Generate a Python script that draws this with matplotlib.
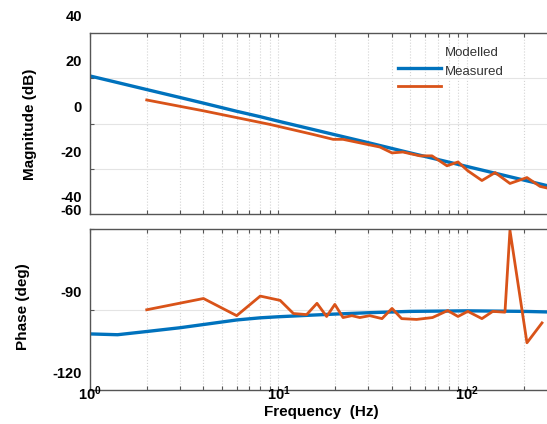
import matplotlib
matplotlib.use('Agg')
import matplotlib.pyplot as plt
from matplotlib.lines import Line2D
from matplotlib.ticker import LogLocator, NullFormatter, FixedLocator

plt.rcParams['font.family'] = 'Liberation Sans'
plt.rcParams['mathtext.fontset'] = 'custom'
plt.rcParams['mathtext.rm'] = 'Liberation Sans:bold'
plt.rcParams['mathtext.it'] = 'Liberation Sans:bold'
plt.rcParams['mathtext.bf'] = 'Liberation Sans:bold'

# modelled response
model_freq = [1, 1.4, 2, 3, 4, 6, 8, 10, 15, 20, 30, 50, 100, 200, 300, 1000]
model_mag = [21, 18.1, 15, 11.5, 9, 5.4, 3, 1, -2.5, -5, -8.5, -13, -19, -25, -28.5, -39]
model_phase = [-99.1, -99.4, -98.2, -96.8, -95.6, -93.9, -93.1, -92.7, -92.1, -91.7,
               -91.2, -90.7, -90.5, -90.7, -91.0, -91.5]

# measured response
meas_mag_freq = [2, 4, 6, 9, 15.2, 19.5, 22, 34.5, 40, 45.7, 56.3, 65.2, 78.3, 89.6,
                 101, 120, 141, 169, 208, 244, 300]
meas_mag = [10.4, 5.6, 2.6, -0.4, -4.8, -7, -7, -10.4, -13, -12.6, -14.3, -14.3, -18.7,
            -17, -20.9, -25.2, -21.7, -26.5, -23.9, -27.8, -29.5]
meas_ph_freq = [2, 4, 6, 8, 10.2, 12, 14.1, 16, 18, 19.9, 22, 24.5, 27, 30.5, 35.4, 40,
                45, 54, 65.6, 79, 89.6, 101, 120, 137, 159, 169, 208, 250]
meas_phase = [-90.1, -85.9, -92.3, -85, -86.6, -91.5, -91.9, -87.7, -92.6, -88.1, -93,
              -92.3, -93, -92.3, -93.4, -89.6, -93.4, -93.7, -93, -90.4, -92.6, -90.7,
              -93.4, -90.7, -91, -60.5, -102.4, -95]

mag_ticks = [-20, 0, 20]
mag_labels = ['40', '20', '0', '-20', '-40', '-60']
mag_label_pos = [47, 27, 7, -13, -33, -38.8]
ph_ticks = [-120, -90, -60]
ph_labels = ['-90', '-120']
ph_label_pos = [-84, -114]
x_ticks = [1, 10, 100]
x_labels = ['$10^{0}$', '$10^{1}$', '$10^{2}$']

blue = '#0072BD'
orange = '#D95319'
W, H = 547, 424
dec = 188.5

fig = plt.figure(figsize=(W / 100, H / 100), dpi=100)
ax1 = fig.add_axes([90 / W, 1 - 214 / H, 3 * dec / W, 181 / H])
ax2 = fig.add_axes([90 / W, 1 - 390 / H, 3 * dec / W, 161 / H])


def style(ax):
    ax.set_xscale('log')
    ax.set_xlim(1, 1000)
    ax.xaxis.set_minor_locator(LogLocator(subs=range(2, 10)))
    ax.xaxis.set_minor_formatter(NullFormatter())
    ax.tick_params(which='both', direction='in', top=True, right=False,
                   color='#555555', length=3, width=0.8)
    ax.tick_params(axis='y', labelleft=False)
    ax.tick_params(axis='x', labelbottom=False)
    for s in ax.spines.values():
        s.set_color('#555555')
        s.set_linewidth(1.0)
    ax.grid(True, axis='x', which='both', color='#d4d4d4', linestyle=':', linewidth=0.8)
    ax.grid(True, axis='y', which='major', color='#e4e4e4', linestyle='-', linewidth=0.8)
    ax.set_axisbelow(True)


style(ax1)
style(ax2)

# magnitude
ax1.plot(model_freq, model_mag, color=blue, lw=2.4)
ax1.plot(meas_mag_freq, meas_mag, color=orange, lw=2.0)
ax1.set_ylim(-40, 40)
ax1.yaxis.set_major_locator(FixedLocator(mag_ticks))
for lab, pos in zip(mag_labels, mag_label_pos):
    ax1.text(-0.014, pos, lab, transform=ax1.get_yaxis_transform(), ha='right', va='center',
             fontsize=10.5, fontweight='bold', clip_on=False)
fig.text(30 / W, 1 - 124 / H, 'Magnitude (dB)', rotation=90, ha='center', va='center',
         fontsize=11, fontweight='bold')

# phase
ax2.plot(model_freq, model_phase, color=blue, lw=2.4)
ax2.plot(meas_ph_freq, meas_phase, color=orange, lw=2.0)
ax2.set_ylim(-120, -60)
ax2.yaxis.set_major_locator(FixedLocator(ph_ticks))
for lab, pos in zip(ph_labels, ph_label_pos):
    ax2.text(-0.014, pos, lab, transform=ax2.get_yaxis_transform(), ha='right', va='center',
             fontsize=10.5, fontweight='bold', clip_on=False)
# x tick labels sit right on the bottom spine, as in the source image
for xt, lab in zip(x_ticks, x_labels):
    ax2.text(xt, -3.5 / 161, lab, transform=ax2.get_xaxis_transform(), ha='center',
             va='center', fontsize=10.5, clip_on=False)
fig.text(321 / W, 1 - 412 / H, 'Frequency  (Hz)', ha='center', va='center',
         fontsize=11, fontweight='bold')
fig.text(23 / W, 1 - 307 / H, 'Phase (deg)', rotation=90, ha='center', va='center',
         fontsize=11, fontweight='bold')

# legend, drawn by hand to keep the offset look
fig.add_artist(Line2D([398 / W, 441 / W], [1 - 68 / H] * 2, color=blue, lw=2.4))
fig.add_artist(Line2D([398 / W, 441 / W], [1 - 86 / H] * 2, color=orange, lw=2.0))
fig.text(445 / W, 1 - 53 / H, 'Modelled', ha='left', va='center', fontsize=9.5, color='#333333')
fig.text(445 / W, 1 - 72 / H, 'Measured', ha='left', va='center', fontsize=9.5, color='#333333')

fig.savefig('out.png', dpi=100)
